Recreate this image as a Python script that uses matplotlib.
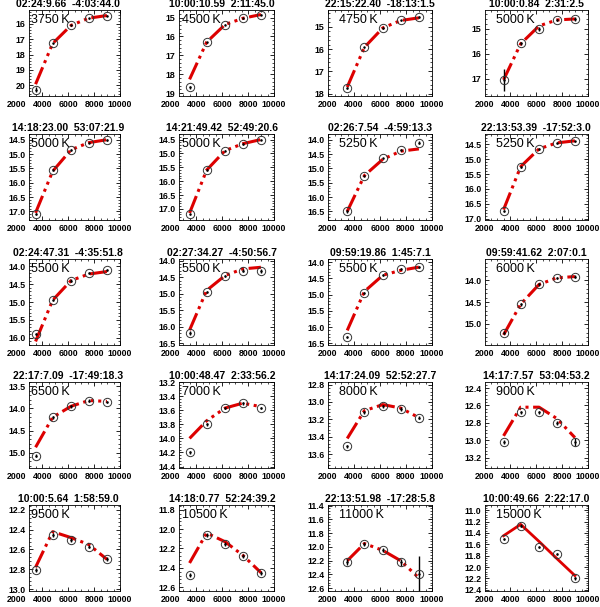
import matplotlib
matplotlib.use('Agg')
import matplotlib.pyplot as plt
from matplotlib.ticker import MultipleLocator, AutoMinorLocator, FormatStrFormatter
import numpy as np

# filter effective wavelengths (Angstrom)
wave = [3480, 4800, 6220, 7590, 8990]
xlabels = [2000, 4000, 6000, 8000, 10000]

titles = ['02:24:9.66  -4:03:44.0', '10:00:10.59  2:11:45.0', '22:15:22.40  -18:13:1.5', '10:00:0.84  2:31:2.5',
          '14:18:23.00  53:07:21.9', '14:21:49.42  52:49:20.6', '02:26:7.54  -4:59:13.3', '22:13:53.39  -17:52:3.0',
          '02:24:47.31  -4:35:51.8', '02:27:34.27  -4:50:56.7', '09:59:19.86  1:45:7.1', '09:59:41.62  2:07:0.1',
          '22:17:7.09  -17:49:18.3', '10:00:48.47  2:33:56.2', '14:17:24.09  52:52:27.7', '14:17:7.57  53:04:53.2',
          '10:00:5.64  1:58:59.0', '14:18:0.77  52:24:39.2', '22:13:51.98  -17:28:5.8', '10:00:49.66  2:22:17.0']
temps = ['3750', '4500', '4750', '5000', '5000', '5000', '5250', '5250', '5500', '5500',
         '5500', '6000', '6500', '7000', '8000', '9000', '9500', '10500', '11000', '15000']

# observed magnitudes
mags = [[20.28, 17.28, 16.10, 15.63, 15.46],
        [18.70, 16.30, 15.37, 15.04, 14.84],
        [17.73, 15.92, 15.05, 14.72, 14.56],
        [17.07, 15.58, 15.00, 14.64, 14.60],
        [17.10, 15.55, 14.85, 14.60, 14.50],
        [17.20, 15.60, 14.90, 14.65, 14.50],
        [16.50, 15.25, 14.65, 14.35, 14.10],
        [16.75, 15.25, 14.65, 14.45, 14.40],
        [15.90, 14.95, 14.40, 14.20, 14.10],
        [16.20, 14.95, 14.45, 14.30, 14.30],
        [16.30, 14.95, 14.40, 14.20, 14.15],
        [15.20, 14.55, 14.10, 13.95, 13.92],
        [15.07, 14.20, 13.95, 13.82, 13.85],
        [14.20, 13.80, 13.57, 13.50, 13.57],
        [13.51, 13.12, 13.05, 13.08, 13.18],
        [13.02, 12.68, 12.68, 12.80, 13.02],
        [12.81, 12.45, 12.50, 12.57, 12.70],
        [12.47, 12.06, 12.15, 12.28, 12.45],
        [12.22, 11.96, 12.05, 12.22, 12.40],
        [11.51, 11.27, 11.65, 11.77, 12.20]]
errs = [[0.15, 0.03, 0.03, 0.03, 0.03],
        [0.10, 0.03, 0.03, 0.03, 0.03],
        [0.05, 0.03, 0.03, 0.03, 0.03],
        [0.44, 0.05, 0.08, 0.03, 0.08],
        [0.03, 0.03, 0.03, 0.03, 0.03],
        [0.03, 0.03, 0.03, 0.03, 0.03],
        [0.05, 0.03, 0.03, 0.03, 0.06],
        [0.03, 0.03, 0.03, 0.03, 0.03],
        [0.03, 0.03, 0.03, 0.03, 0.03],
        [0.06, 0.03, 0.03, 0.05, 0.06],
        [0.03, 0.03, 0.03, 0.03, 0.03],
        [0.03, 0.03, 0.03, 0.03, 0.03],
        [0.03, 0.03, 0.03, 0.03, 0.03],
        [0.02, 0.02, 0.02, 0.02, 0.02],
        [0.02, 0.02, 0.02, 0.02, 0.02],
        [0.02, 0.02, 0.02, 0.02, 0.05],
        [0.02, 0.02, 0.02, 0.02, 0.02],
        [0.02, 0.02, 0.02, 0.02, 0.02],
        [0.04, 0.03, 0.03, 0.05, 0.27],
        [0.02, 0.02, 0.02, 0.02, 0.02]]
# model fit magnitudes at the same wavelengths
fits = [[19.93, 17.28, 16.10, 15.63, 15.46],
        [18.27, 16.30, 15.37, 15.04, 14.84],
        [17.70, 15.92, 15.05, 14.72, 14.60],
        [17.05, 15.60, 14.88, 14.64, 14.60],
        [17.05, 15.60, 14.85, 14.60, 14.50],
        [17.15, 15.60, 14.90, 14.65, 14.50],
        [16.50, 15.25, 14.68, 14.40, 14.32],
        [16.70, 15.25, 14.65, 14.45, 14.38],
        [16.10, 14.95, 14.40, 14.22, 14.15],
        [16.10, 14.90, 14.45, 14.25, 14.20],
        [16.10, 14.90, 14.40, 14.25, 14.15],
        [15.25, 14.55, 14.10, 13.95, 13.92],
        [14.88, 14.20, 13.95, 13.82, 13.84],
        [14.00, 13.75, 13.57, 13.50, 13.55],
        [13.42, 13.10, 13.03, 13.07, 13.18],
        [12.95, 12.62, 12.62, 12.75, 12.97],
        [12.78, 12.42, 12.48, 12.55, 12.70],
        [12.35, 12.04, 12.13, 12.27, 12.45],
        [12.20, 11.95, 12.05, 12.20, 12.45],
        [11.45, 11.25, 11.55, 11.85, 12.15]]
# y ranges (bottom, top) and major tick step
ylims = [(20.7, 15.1), (19.15, 14.6), (18.1, 14.25), (17.7, 14.24),
         (17.3, 14.3), (17.4, 14.3), (16.8, 13.8), (17.05, 14.15),
         (16.2, 13.8), (16.55, 13.95), (16.55, 13.9), (15.48, 13.52),
         (15.35, 13.4), (14.42, 13.2), (13.76, 12.77), (13.32, 12.33),
         (13.02, 12.15), (12.64, 11.75), (12.64, 11.39), (12.42, 10.91)]
ysteps = [1, 1, 1, 1, 0.5, 0.5, 0.5, 0.5, 0.5, 0.5, 0.5, 0.5,
          0.5, 0.2, 0.2, 0.2, 0.2, 0.2, 0.2, 0.2]

plt.rcParams['font.family'] = ['Liberation Sans', 'DejaVu Sans']
fig = plt.figure(figsize=(6.0, 6.07), dpi=100)

W, H = 600.0, 607.0
# box edges in pixels; the left part of the first columns is cut off, as in the original
col_left = [29, 179, 328, 485]
col_right = [120, 274, 432, 588]
px_per_aa = 0.01295
row_top = [10, 134, 259, 382, 505]
box_h = 86

fitstyle = (0, (6, 1.5, 1, 1.5, 1, 1.5, 1, 1.5))
for i in range(20):
    r, c = divmod(i, 4)
    bw = col_right[c] - col_left[c]
    xlo = max(2000, 10000 - bw / px_per_aa)
    ax = fig.add_axes([col_left[c] / W, 1 - (row_top[r] + box_h) / H, bw / W, box_h / H])
    if i == 19:
        ax.plot(wave, fits[i], color='#dd0000', lw=2.0, zorder=2)
    else:
        ax.plot(wave, fits[i], color='#dd0000', lw=2.2, linestyle=fitstyle, zorder=2)
    ax.errorbar(wave, mags[i], yerr=errs[i], fmt='o', ms=6, mfc='none', mec='#333333',
                mew=0.7, ecolor='black', elinewidth=1.0, capsize=0, zorder=3)
    ax.plot(wave, mags[i], '.', color='black', ms=1.5, zorder=4)
    ax.set_xlim(xlo, 10000)
    ax.set_ylim(*ylims[i])
    ax.xaxis.set_major_locator(MultipleLocator(2000))
    ax.xaxis.set_minor_locator(AutoMinorLocator(4))
    ax.yaxis.set_major_locator(MultipleLocator(ysteps[i]))
    ax.yaxis.set_minor_locator(AutoMinorLocator(5))
    ax.tick_params(which='both', direction='in', top=True, right=True, labelsize=6.3, pad=2.5)
    ax.tick_params(which='major', length=3, width=0.6)
    ax.tick_params(which='minor', length=1.5, width=0.5)
    ax.tick_params(axis='x', labelbottom=False)
    # x tick labels drawn as text so that the end values outside the box still show
    for v in xlabels:
        ax.text(v, -0.05, str(v), transform=ax.get_xaxis_transform(), ha='center', va='top',
                fontsize=6.3, fontweight='bold', clip_on=False)
    for lab in ax.get_yticklabels():
        lab.set_fontweight('bold')
    if ysteps[i] < 1:
        ax.yaxis.set_major_formatter(FormatStrFormatter('%.1f'))
    for sp in ax.spines.values():
        sp.set_linewidth(0.6)
    ax.text(6000, 1.015, titles[i], transform=ax.get_xaxis_transform(), ha='center', va='bottom',
            fontsize=7.5, fontweight='bold', clip_on=False)
    ax.text(max(2870, xlo + 150), 0.88, temps[i] + '\u2009K', transform=ax.get_xaxis_transform(),
            fontsize=9, va='center', ha='left', clip_on=False)

fig.savefig('out.png', dpi=100)
